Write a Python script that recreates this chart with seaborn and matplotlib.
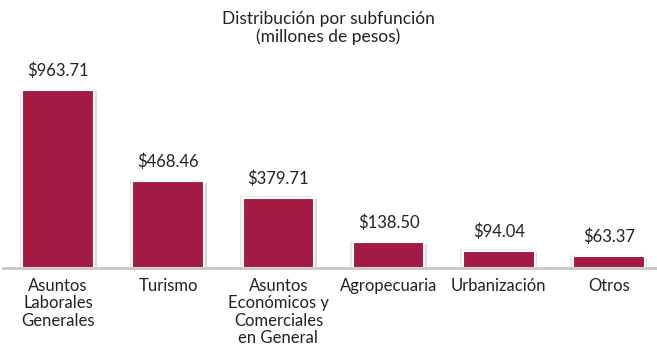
import matplotlib
matplotlib.use("Agg")
import matplotlib.pyplot as plt
import matplotlib.patheffects as pe
import seaborn as sns
import pandas as pd

categorias = ["Asuntos\nLaborales\nGenerales", "Turismo",
              "Asuntos\nEconómicos y\nComerciales\nen General",
              "Agropecuaria", "Urbanización", "Otros"]
montos = [963.71, 468.46, 379.71, 138.50, 94.04, 63.37]
etiquetas = ["$963.71", "$468.46", "$379.71", "$138.50", "$94.04", "$63.37"]

df = pd.DataFrame({"subfuncion": categorias, "monto": montos})

sns.set_theme(style="white")
plt.rcParams["font.family"] = ["Lato", "DejaVu Sans"]

fig = plt.figure(figsize=(6.57, 3.47), dpi=100)
ax = fig.add_axes([3 / 657, 1 - 268 / 347, 661 / 657, 208 / 347])

sns.barplot(data=df, x="subfuncion", y="monto", color="#A31A42",
            width=0.65, saturation=1, ax=ax)

for p in ax.patches:
    p.set_edgecolor("white")
    p.set_linewidth(1.5)
    p.set_path_effects([
        pe.SimplePatchShadow(offset=(2, -1), shadow_rgbFace="#9a9a9a", alpha=0.35),
        pe.SimplePatchShadow(offset=(-2, 1), shadow_rgbFace="#b0b0b0", alpha=0.3),
        pe.Normal(),
    ])

for p, txt in zip(ax.patches, etiquetas):
    ax.annotate(txt, (p.get_x() + p.get_width() / 2, p.get_height()),
                xytext=(0, 8), textcoords="offset points",
                ha="center", va="bottom", fontsize=12, color="#222222")

ax.set_xlim(-0.5, 5.5)
ax.set_ylim(0, 1126)
ax.set_xlabel("")
ax.set_ylabel("")
ax.set_yticks([])
ax.tick_params(axis="x", length=0, pad=7, labelsize=12, colors="#222222")
for lbl in ax.get_xticklabels():
    lbl.set_linespacing(1.12)
    lbl.set_va("top")

for side in ["left", "right", "top"]:
    ax.spines[side].set_visible(False)
ax.spines["bottom"].set_color("#c8c8c8")
ax.spines["bottom"].set_linewidth(2)

fig.text(0.5, 1 - 28 / 347, "Distribución por subfunción\n(millones de pesos)",
         ha="center", va="center", fontsize=12.5, color="#222222", linespacing=1.15)

fig.savefig("out.png", dpi=100, facecolor="white")
